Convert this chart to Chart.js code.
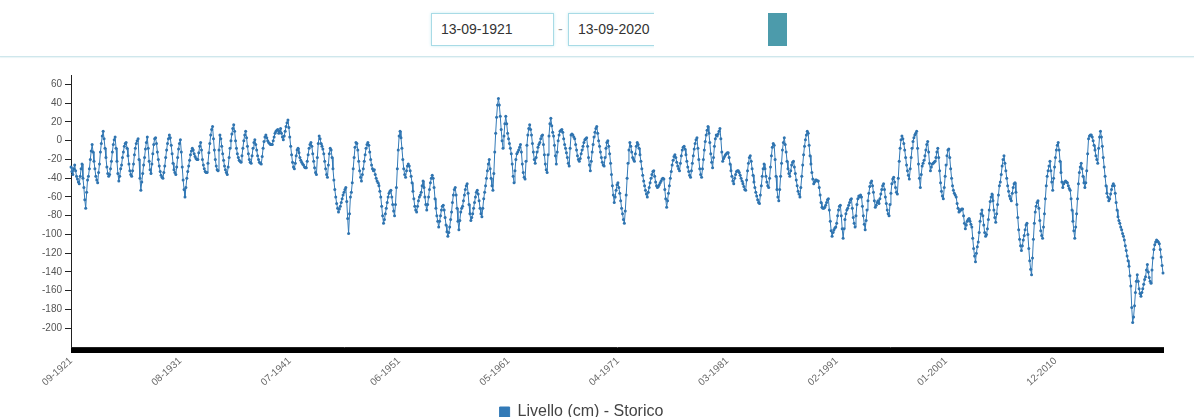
<!DOCTYPE html>
<html>
<head>
<meta charset="utf-8">
<script src="https://cdn.jsdelivr.net/npm/chart.js@4"></script>
<style>
  html, body { margin:0; padding:0; background:#fff; width:1194px; height:417px; overflow:hidden; font-family:"Liberation Sans", Arial, sans-serif; }
  .inp { position:absolute; top:13px; height:31px; border:1px solid #a8dbe6; box-shadow:0 0 3px #c9ecf2; background:#fff; font-size:14px; color:#333; line-height:31px; padding-left:9px; box-sizing:content-box; }
  #dash { position:absolute; left:558px; top:21px; font-size:14px; color:#999; }
  #mask { position:absolute; left:654px; top:6px; width:114px; height:46px; background:#fff; }
  #btn { position:absolute; left:768px; top:13px; width:19px; height:33px; background:#4c9bab; }
  #rule { position:absolute; left:0; top:56px; width:1194px; height:1px; background:#cfe7ec; box-shadow:0 1px 1px #e6f3f5; }
  #wrap { position:absolute; left:0; top:60px; width:1194px; height:370px; }
</style>
</head>
<body>
<div class="inp" style="left:431px;width:112px;">13-09-1921</div>
<div id="dash">-</div>
<div class="inp" style="left:568px;width:130px;">13-09-2020</div>
<div id="mask"></div>
<div id="btn"></div>
<div id="rule"></div>
<div id="wrap"><canvas id="c" width="1194" height="370"></canvas></div>
<script>
// Monthly lake level (cm), 09-1921 .. 09-2020
const levels1921 = [
-28,-33,-36,-30,-26,-32,-38,-41,-44,-46,-38,-30,
-25,-40,-50,-63,-72,-55,-42,-38,-30,-20,-11,-4,
-12,-22,-30,-38,-42,-45,-34,-25,-12,-3,5,10,
2,-8,-18,-28,-35,-38,-36,-30,-22,-12,-4,1,
4,-8,-22,-35,-43,-38,-30,-26,-18,-12,-6,-3,
-2,-8,-16,-25,-32,-36,-38,-32,-25,-15,-8,-3,
0,2,-20,-40,-53,-44,-35,-26,-18,-9,-2,4,
-8,-22,-31,-35,-25,-14,-4,2,3,-3,-12,-20,
-27,-33,-37,-39,-40,-34,-27,-18,-10,-3,2,6,
3,-5,-14,-24,-31,-34,-36,-28,-18,-9,-3,1];
const levels1931 = [
-12,-28,-42,-52,-60,-50,-40,-33,-27,-21,-15,-11,
-8,-10,-14,-17,-19,-20,-20,-13,-6,-2,-10,-20,
-26,-30,-33,-34,-34,-24,-13,-3,6,12,15,2,
-10,-20,-27,-31,-32,-10,6,2,-6,-14,-21,-27,
-31,-34,-36,-28,-18,-8,0,7,13,17,10,0,
-8,-14,-18,-21,-22,-23,-16,-8,0,6,10,3,
-6,-14,-20,-23,-24,-16,-8,-2,1,-4,-10,-16,
-20,-23,-24,-25,-17,-8,-1,4,6,3,0,-2,
-3,-4,-4,-4,0,4,8,10,11,12,8,10,
13,8,4,1,5,10,15,19,22,14,4,-6];
const levels1941 = [
-15,-23,-28,-30,-24,-16,-10,-8,-13,-18,-21,-23,
-25,-26,-28,-29,-29,-22,-15,-8,-4,-2,-6,-14,
-22,-29,-34,-36,-18,-3,5,2,-3,-6,-9,-14,
-22,-30,-36,-39,-26,-14,-8,-10,-18,-30,-42,-52,
-60,-67,-72,-76,-73,-70,-66,-62,-58,-55,-52,-50,
-65,-83,-99,-78,-60,-55,-45,-30,-18,-7,-2,-3,
-10,-22,-32,-39,-43,-36,-30,-22,-15,-8,-4,-2,
-5,-12,-20,-26,-30,-32,-31,-36,-40,-43,-45,-48,
-54,-60,-70,-80,-88,-84,-78,-72,-66,-60,-56,-54,
-53,-60,-68,-75,-80,-68,-50,-30,-10,5,10,3];
const levels1951 = [
-8,-20,-30,-36,-39,-32,-27,-25,-27,-32,-38,-45,
-54,-62,-70,-74,-76,-70,-64,-60,-58,-55,-48,-43,
-50,-60,-68,-74,-68,-60,-52,-45,-40,-37,-40,-50,
-62,-72,-80,-86,-92,-86,-80,-74,-70,-69,-74,-82,
-90,-97,-102,-98,-92,-84,-76,-66,-58,-52,-50,-58,
-72,-86,-95,-85,-76,-72,-70,-64,-58,-52,-48,-46,
-56,-68,-78,-85,-82,-78,-72,-66,-60,-55,-53,-57,
-64,-72,-78,-81,-72,-62,-55,-48,-40,-32,-25,-20,
-30,-40,-48,-53,-35,-12,8,25,38,45,38,26,
12,0,-8,5,18,26,18,8,2,-3,-8,-14];
const levels1961 = [
-25,-38,-45,-32,-20,-14,-12,-10,-7,-4,-12,-25,
-34,-39,-41,-22,-5,6,13,17,12,6,-3,-12,
-20,-24,-18,-12,-7,-4,-2,2,5,6,-4,-15,
-25,-31,-34,-15,5,18,24,16,9,5,-5,-16,
-25,-12,0,6,10,11,12,9,2,-4,-8,-13,
-18,-24,-27,-8,6,7,6,4,2,-4,-10,-16,
-20,-22,-19,-14,-10,-6,-2,1,2,3,-6,-18,
-26,-32,-22,-12,-4,4,9,13,15,8,0,-6,
-12,-18,-23,-26,-27,-18,-8,-2,0,-6,-14,-24,
-36,-48,-58,-66,-60,-53,-47,-45,-50,-56,-64,-72];
const levels1971 = [
-78,-84,-88,-75,-58,-40,-24,-10,-2,-6,-12,-18,
-20,-22,-14,-6,-2,-4,-8,-15,-22,-30,-37,-43,
-48,-53,-57,-60,-55,-50,-45,-40,-36,-33,-32,-38,
-44,-48,-50,-49,-47,-45,-43,-41,-40,-41,-52,-62,
-71,-64,-56,-48,-40,-33,-26,-21,-17,-15,-18,-23,
-27,-30,-32,-24,-16,-10,-7,-6,-9,-15,-22,-28,
-33,-37,-39,-32,-24,-16,-9,-3,1,3,-8,-20,
-30,-36,-39,-30,-20,-10,-1,6,11,15,8,-2,
-14,-23,-29,-18,-6,2,6,5,7,10,13,2,
-12,-22,-19,-17,-15,-14,-13,-13,-18,-25,-32,-38];
const levels1981 = [
-43,-46,-40,-36,-33,-32,-32,-34,-37,-40,-43,-46,
-49,-52,-53,-42,-32,-24,-18,-16,-22,-30,-37,-44,
-50,-55,-59,-63,-66,-67,-58,-48,-38,-30,-25,-30,
-38,-44,-48,-50,-40,-28,-16,-7,-3,-5,-20,-38,
-52,-60,-64,-52,-38,-24,-10,-2,3,-4,-12,-22,
-30,-35,-38,-32,-26,-23,-22,-28,-35,-42,-48,-54,
-57,-60,-50,-38,-26,-15,-6,1,6,10,8,-5,
-16,-25,-34,-41,-46,-44,-42,-42,-43,-43,-50,-58,
-66,-71,-72,-72,-71,-69,-66,-63,-62,-74,-86,-96,
-102,-98,-95,-93,-92,-88,-80,-74,-70,-69,-80,-94];
const levels1991 = [
-104,-94,-84,-78,-74,-72,-69,-66,-63,-62,-72,-82,
-88,-92,-80,-68,-62,-59,-60,-58,-60,-70,-80,-89,
-95,-85,-74,-64,-56,-49,-45,-43,-48,-55,-64,-71,
-69,-66,-64,-67,-62,-57,-52,-48,-46,-52,-60,-67,
-74,-78,-80,-68,-56,-46,-41,-39,-44,-50,-55,-57,
-40,-22,-8,1,5,2,-3,-10,-18,-26,-32,-37,
-41,-30,-18,-8,-1,3,6,8,10,-8,-25,-40,
-50,-36,-27,-24,-21,-16,-10,-4,-1,-12,-24,-32,
-28,-25,-24,-23,-22,-18,-12,-8,-18,-32,-45,-54,
-59,-62,-50,-38,-26,-16,-10,-9,-18,-30,-40,-48];
const levels2001 = [
-53,-56,-58,-60,-67,-72,-76,-75,-74,-73,-73,-80,
-88,-94,-90,-86,-84,-83,-86,-89,-92,-104,-115,-123,
-129,-120,-113,-108,-98,-86,-78,-74,-80,-90,-98,-102,
-100,-94,-84,-74,-65,-60,-57,-64,-74,-82,-87,-78,
-68,-58,-48,-44,-36,-27,-20,-16,-24,-32,-40,-48,
-54,-59,-62,-64,-56,-50,-46,-45,-55,-68,-82,-95,
-105,-112,-117,-112,-106,-101,-95,-90,-88,-100,-115,-128,
-137,-143,-125,-105,-88,-76,-70,-66,-64,-72,-85,-96,
-101,-104,-92,-78,-62,-48,-38,-32,-27,-22,-32,-44,
-53,-40,-28,-18,-10,-5,-2,-10,-22,-34,-44,-50];
const levels2011 = [
-46,-44,-43,-44,-45,-48,-51,-53,-62,-74,-86,-96,
-104,-92,-78,-62,-46,-34,-28,-24,-30,-38,-45,-50,
-45,-32,-14,2,5,6,6,4,0,-5,-10,-16,
-20,-24,-8,4,10,4,-6,-18,-28,-38,-48,-56,
-60,-64,-62,-57,-52,-48,-46,-48,-56,-66,-74,-81,
-85,-88,-92,-95,-99,-102,-106,-112,-117,-123,-128,-134,
-144,-155,-178,-194,-188,-176,-162,-150,-143,-150,-158,-163,
-166,-162,-158,-153,-148,-145,-138,-132,-140,-146,-150,-152,
-138,-125,-116,-111,-108,-106,-107,-108,-110,-116,-124,-133,
-141];

const xTickLabels = ['09-1921','08-1931','07-1941','06-1951','05-1961','04-1971','03-1981','02-1991','01-2001','12-2010'];
const yTickValues = [-200,-180,-160,-140,-120,-100,-80,-60,-40,-20,0,20,40,60];
const seriesName = 'Livello (cm) - Storico';

const levels = [].concat(levels1921, levels1931, levels1941, levels1951, levels1961,
                         levels1971, levels1981, levels1991, levels2001, levels2011);

// month categories "MM-YYYY" starting 09-1921
const categories = [];
for (let i = 0; i < levels.length; i++) {
  const t = 8 + i;
  const y = 1921 + Math.floor(t / 12);
  const m = (t % 12) + 1;
  categories.push((m < 10 ? '0' : '') + m + '-' + y);
}

const FONT = '"Liberation Sans", Arial, sans-serif';
const BLUE = '#337ab7';

new Chart(document.getElementById('c'), {
  type: 'line',
  data: {
    labels: categories,
    datasets: [{
      label: seriesName,
      data: levels,
      borderColor: BLUE,
      backgroundColor: BLUE,
      borderWidth: 1,
      pointRadius: 1.5,
      pointBorderWidth: 0,
      pointBackgroundColor: '#2f74b0',
      tension: 0
    }]
  },
  options: {
    responsive: false,
    animation: false,
    devicePixelRatio: 1,
    layout: { padding: { top: 15, right: 31, left: 0, bottom: 0 } },
    plugins: {
      tooltip: { enabled: false },
      legend: {
        position: 'bottom',
        labels: {
          boxWidth: 10, boxHeight: 10, padding: 8,
          color: '#444',
          font: { size: 16, family: FONT }
        }
      }
    },
    scales: {
      x: {
        type: 'category',
        offset: false,
        grid: { drawOnChartArea: false, drawTicks: true, tickLength: 6, color: '#000', lineWidth: 1 },
        border: { color: '#222', width: 1 },
        ticks: {
          autoSkip: false,
          minRotation: 42, maxRotation: 42,
          padding: 2,
          color: '#666',
          font: { size: 10, family: FONT },
          callback: function (v) { const l = categories[v]; return xTickLabels.includes(l) ? l : ''; }
        },
        afterFit: function (s) { s.height = 49; }
      },
      y: {
        min: -220, max: 70,
        bounds: 'data',
        grid: { drawOnChartArea: false, drawTicks: true, tickLength: 6, color: '#222' },
        border: { color: '#222', width: 1 },
        ticks: { color: '#555', padding: 3, font: { size: 10, family: FONT } },
        afterBuildTicks: function (s) { s.ticks = yTickValues.map(v => ({ value: v })); },
        afterFit: function (s) { s.width = 71; }
      }
    }
  }
});
</script>
</body>
</html>
